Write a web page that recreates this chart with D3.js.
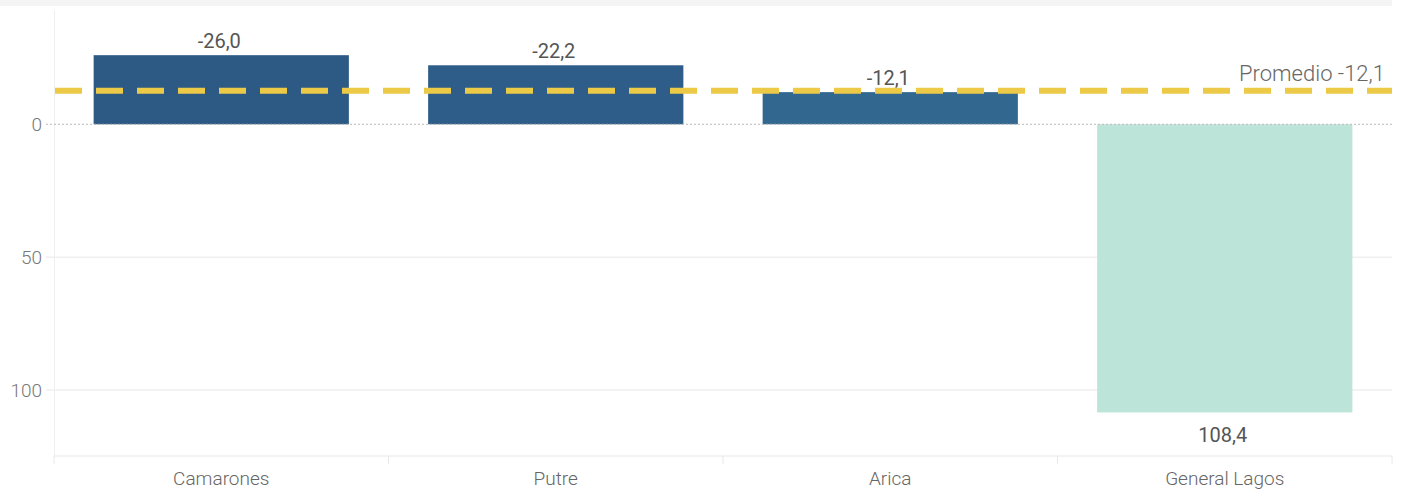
<!DOCTYPE html>
<html><head><meta charset="utf-8">
<script src="https://cdn.jsdelivr.net/npm/d3@7"></script>
<style>
body{margin:0;background:#fff;}
svg{display:block;font-family:Roboto,"Open Sans",sans-serif;}
</style></head>
<body><svg id="c" width="1406" height="494"></svg>
<script>
const categories = ["Camarones","Putre","Arica","General Lagos"];
const values = [-26.0, -22.2, -12.1, 108.4];
const barColors = ["#2d5985","#2e5d89","#326890","#bce4d8"];
const yTicks = [0, 50, 100];
const average = -12.1;
const averageLabel = "Promedio -12,1";

const svg = d3.select("#c");
const fmt = v => d3.format(".1f")(v).replace("\u2212", "-").replace(".", ",");

svg.append("rect").attr("x",0).attr("y",0).attr("width",1392).attr("height",6).attr("fill","#f4f4f4");

const x = d3.scaleBand().domain(categories).range([54,1392]).paddingInner(0.237).paddingOuter(0.1185);
const y = d3.scaleLinear().domain([-43,124.8]).range([10,456]);

// gridlines
svg.append("g").selectAll("line").data(yTicks.filter(t=>t!==0)).join("line")
  .attr("x1",46).attr("x2",1392).attr("y1",d=>y(d)).attr("y2",d=>y(d))
  .attr("stroke","#efefef").attr("stroke-width",1.5);

// y axis line
svg.append("line").attr("x1",54.5).attr("x2",54.5).attr("y1",10).attr("y2",456).attr("stroke","#efefef").attr("stroke-width",1);

// bars
svg.append("g").selectAll("rect").data(values).join("rect")
  .attr("x",(d,i)=>x(categories[i]))
  .attr("width",x.bandwidth())
  .attr("y",d=>Math.min(y(0),y(d)))
  .attr("height",d=>Math.abs(y(d)-y(0)))
  .attr("fill",(d,i)=>barColors[i]);

// zero line
svg.append("line").attr("x1",46).attr("x2",1392).attr("y1",y(0)).attr("y2",y(0))
  .attr("stroke","#b8b8b8").attr("stroke-width",1).attr("stroke-dasharray","2,2");

// value labels
svg.append("g").selectAll("text").data(values).join("text")
  .attr("x",(d,i)=>x(categories[i])+x.bandwidth()/2 - 2)
  .attr("y",d=> d<0 ? y(d)-7 : y(d)+30)
  .attr("text-anchor","middle").attr("font-size",20).attr("font-weight",400).attr("fill","#555")
  .text(d=>fmt(d));

// average line
svg.append("line").attr("x1",55).attr("x2",1392).attr("y1",y(average)-1.5).attr("y2",y(average)-1.5)
  .attr("stroke","#edc948").attr("stroke-width",6).attr("stroke-dasharray","27,14");
svg.append("text").attr("x",1385).attr("y",y(average)-11).attr("text-anchor","end")
  .attr("font-size",22).attr("font-weight",300).attr("fill","#666").text(averageLabel);

// y tick labels
svg.append("g").selectAll("text").data(yTicks).join("text")
  .attr("x",42).attr("y",d=>y(d)).attr("dy","0.36em").attr("text-anchor","end")
  .attr("font-size",19).attr("font-weight",300).attr("fill","#777").text(d=>d);

// x axis
svg.append("line").attr("x1",54).attr("x2",1392).attr("y1",456).attr("y2",456).attr("stroke","#efefef").attr("stroke-width",1.5);
const bounds = [54].concat(categories.map(c=>x(c)+x.bandwidth()+x.step()*x.paddingInner()/2));
bounds[bounds.length-1]=1392;
svg.append("g").selectAll("line").data(bounds).join("line")
  .attr("x1",d=>d).attr("x2",d=>d).attr("y1",456).attr("y2",464).attr("stroke","#e8e8e8").attr("stroke-width",1);
svg.append("g").selectAll("text").data(categories).join("text")
  .attr("x",c=>x(c)+x.bandwidth()/2).attr("y",485).attr("text-anchor","middle")
  .attr("font-size",19).attr("font-weight",300).attr("fill","#666").text(c=>c);
</script></body></html>
